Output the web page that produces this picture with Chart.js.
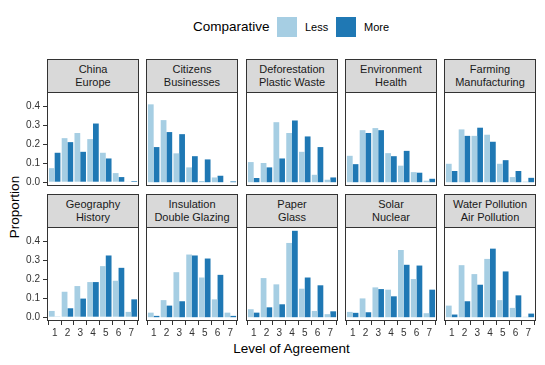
<!DOCTYPE html>
<html>
<head>
<meta charset="utf-8">
<script src="https://cdn.jsdelivr.net/npm/chart.js@4"></script>
<style>
  body { margin: 0; width: 545px; height: 365px; position: relative; overflow: hidden; background: #fff;
         font-family: "Liberation Sans", Arial, sans-serif; }
  .strip { position: absolute; box-sizing: border-box; background: #d9d9d9; border: 1px solid #333;
           color: #1a1a1a; font-size: 11px; line-height: 13px; text-align: center;
           display: flex; flex-direction: column; justify-content: center; }
  .panel { position: absolute; }
  .title { position: absolute; font-size: 13.5px; color: #000; white-space: nowrap; }
  .key { position: absolute; width: 20px; height: 20px; top: 17px; }
  .keytext { position: absolute; font-size: 11px; top: 21px; color: #000; }
</style>
</head>
<body>
<div class="title" style="left:193px; top:19px;">Comparative</div>
<div class="key" id="keyLess" style="left:277px;"></div>
<div class="keytext" style="left:305px;">Less</div>
<div class="key" id="keyMore" style="left:336px;"></div>
<div class="keytext" style="left:364px;">More</div>
<div class="title" style="left:0; width:583px; text-align:center; top:341px;">Level of Agreement</div>
<div class="title" style="left:14px; top:207px; transform: translate(-50%, -50%) rotate(-90deg);">Proportion</div>

<script>
// niveis de concordancia e rotulos do eixo y
const categories = ['1', '2', '3', '4', '5', '6', '7'];
const yTicks = [0, 0.1, 0.2, 0.3, 0.4];
const yTickLabels = ['0.0', '0.1', '0.2', '0.3', '0.4'];

const facetLabels = [
  ['China', 'Europe'], ['Citizens', 'Businesses'], ['Deforestation', 'Plastic Waste'],
  ['Environment', 'Health'], ['Farming', 'Manufacturing'], ['Geography', 'History'],
  ['Insulation', 'Double Glazing'], ['Paper', 'Glass'], ['Solar', 'Nuclear'],
  ['Water Pollution', 'Air Pollution']
];

const chinaEuropeLess = [0.074, 0.232, 0.259, 0.227, 0.155, 0.048, 0.002];
const chinaEuropeMore = [0.155, 0.211, 0.160, 0.309, 0.125, 0.027, 0.006];
const citizensLess = [0.410, 0.327, 0.152, 0.078, 0.006, 0.025, 0.000];
const citizensMore = [0.185, 0.264, 0.253, 0.137, 0.120, 0.034, 0.004];
const deforestationLess = [0.106, 0.101, 0.316, 0.259, 0.160, 0.039, 0.013];
const deforestationMore = [0.022, 0.078, 0.125, 0.325, 0.241, 0.185, 0.025];
const environmentLess = [0.139, 0.274, 0.285, 0.153, 0.087, 0.053, 0.008];
const environmentMore = [0.095, 0.259, 0.274, 0.137, 0.165, 0.050, 0.018];
const farmingLess = [0.097, 0.278, 0.244, 0.250, 0.097, 0.027, 0.003];
const farmingMore = [0.059, 0.244, 0.287, 0.213, 0.116, 0.059, 0.023];
const geographyLess = [0.033, 0.134, 0.164, 0.185, 0.269, 0.192, 0.028];
const geographyMore = [0.002, 0.047, 0.098, 0.185, 0.325, 0.260, 0.094];
const insulationLess = [0.024, 0.090, 0.237, 0.330, 0.209, 0.094, 0.024];
const insulationMore = [0.007, 0.061, 0.084, 0.325, 0.309, 0.223, 0.007];
const paperLess = [0.042, 0.206, 0.173, 0.391, 0.150, 0.033, 0.016];
const paperMore = [0.024, 0.052, 0.068, 0.455, 0.209, 0.168, 0.031];
const solarLess = [0.028, 0.099, 0.157, 0.145, 0.354, 0.201, 0.021];
const solarMore = [0.023, 0.026, 0.148, 0.110, 0.276, 0.272, 0.145];
const waterLess = [0.061, 0.274, 0.227, 0.307, 0.090, 0.049, 0.002];
const waterMore = [0.014, 0.084, 0.171, 0.361, 0.241, 0.115, 0.019];

const lessSeries = [chinaEuropeLess, citizensLess, deforestationLess, environmentLess, farmingLess,
  geographyLess, insulationLess, paperLess, solarLess, waterLess];
const moreSeries = [chinaEuropeMore, citizensMore, deforestationMore, environmentMore, farmingMore,
  geographyMore, insulationMore, paperMore, solarMore, waterMore];

const LESS_COLOR = '#a6cee3';
const MORE_COLOR = '#1f78b4';
const FONT = '"Liberation Sans", Arial, sans-serif';

document.getElementById('keyLess').style.background = LESS_COLOR;
document.getElementById('keyMore').style.background = MORE_COLOR;

// layout dos paineis (px)
const colX = [47, 146, 246, 345, 444];
const rowY = [92, 227];
const PANEL_W = 92, PANEL_H = 94;
const YAXIS_W = 32, XAXIS_H = 18, PAD = 2;

const panelBorder = {
  id: 'panelBorder',
  afterDraw(chart) {
    const { ctx, chartArea: a } = chart;
    ctx.save();
    ctx.strokeStyle = '#333';
    ctx.lineWidth = 1;
    ctx.strokeRect(a.left + 0.5, a.top + 0.5, a.right - a.left - 1, a.bottom - a.top - 1);
    ctx.restore();
  }
};

const toPoints = arr => arr.map((v, i) => ({ x: i + 1, y: v }));

facetLabels.forEach((lab, k) => {
  const r = Math.floor(k / 5), c = k % 5;
  const showX = r === 1, showY = c === 0;

  const strip = document.createElement('div');
  strip.className = 'strip';
  strip.style.left = colX[c] + 'px';
  strip.style.top = (rowY[r] - 33) + 'px';
  strip.style.width = PANEL_W + 'px';
  strip.style.height = '34px';
  strip.innerHTML = '<span>' + lab[0] + '</span><span>' + lab[1] + '</span>';
  document.body.appendChild(strip);

  const leftExtra = showY ? YAXIS_W : PAD;
  const bottomExtra = showX ? XAXIS_H : PAD;
  const wrap = document.createElement('div');
  wrap.className = 'panel';
  wrap.style.left = (colX[c] - leftExtra) + 'px';
  wrap.style.top = (rowY[r] - PAD) + 'px';
  wrap.style.width = (PANEL_W + leftExtra + PAD) + 'px';
  wrap.style.height = (PANEL_H + PAD + bottomExtra) + 'px';
  const canvas = document.createElement('canvas');
  wrap.appendChild(canvas);
  document.body.appendChild(wrap);

  new Chart(canvas.getContext('2d'), {
    type: 'bar',
    data: {
      datasets: [
        { label: 'Less', data: toPoints(lessSeries[k]), backgroundColor: LESS_COLOR, borderWidth: 0 },
        { label: 'More', data: toPoints(moreSeries[k]), backgroundColor: MORE_COLOR, borderWidth: 0 }
      ]
    },
    options: {
      responsive: true,
      maintainAspectRatio: false,
      animation: false,
      layout: { padding: { left: showY ? 0 : PAD, right: PAD, top: PAD, bottom: showX ? 0 : PAD } },
      datasets: { bar: { categoryPercentage: 0.9, barPercentage: 1.0 } },
      plugins: { legend: { display: false }, tooltip: { enabled: false } },
      scales: {
        x: {
          type: 'linear',
          display: showX,
          offset: false,
          min: 0.4, max: 7.6,
          afterBuildTicks: s => { s.ticks = categories.map((t, i) => ({ value: i + 1 })); },
          afterFit: s => {
            if (showX) s.height = XAXIS_H;
            s.paddingLeft = 0; s.paddingRight = 0;
          },
          grid: { drawOnChartArea: false, drawTicks: true, tickLength: 4, color: '#333' },
          border: { display: false },
          ticks: { padding: 2, color: '#333', maxRotation: 0, autoSkip: false,
                   font: { size: 10, family: FONT }, callback: (v, i) => categories[i] }
        },
        y: {
          display: showY,
          min: -0.02, max: 0.475,
          afterBuildTicks: s => { s.ticks = yTicks.map(v => ({ value: v })); },
          afterFit: s => {
            if (showY) s.width = YAXIS_W;
            s.paddingTop = 0; s.paddingBottom = 0;
          },
          grid: { drawOnChartArea: false, drawTicks: true, tickLength: 4, color: '#333' },
          border: { display: false },
          ticks: { padding: 3, color: '#333', font: { size: 10, family: FONT },
                   callback: (v, i) => yTickLabels[i] }
        }
      }
    },
    plugins: [panelBorder]
  });
});
</script>
</body>
</html>
